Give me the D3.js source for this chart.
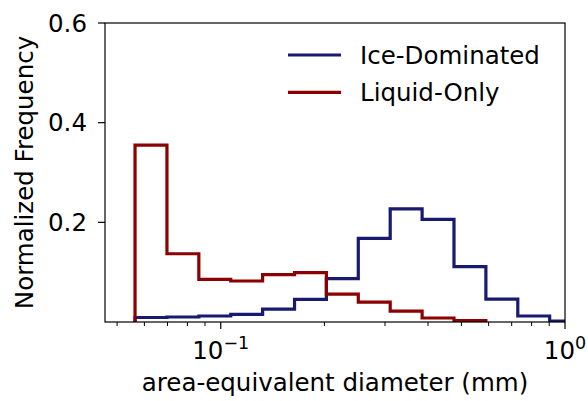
<!DOCTYPE html>
<html><head><meta charset="utf-8">
<script src="https://cdn.jsdelivr.net/npm/d3@7/dist/d3.min.js"></script>
<style>body{margin:0;background:#fff}svg{display:block}text{font-family:"DejaVu Sans",sans-serif;fill:#000}</style>
</head><body>
<script>
// bin edges (mm), log-spaced
const binEdges = [0.05636, 0.06977, 0.08636, 0.1069, 0.1323, 0.1638, 0.2027, 0.2509, 0.3106, 0.3845, 0.4759, 0.5891, 0.7292, 0.9025, 1.117];
const iceDominated = [0.009, 0.010, 0.012, 0.0155, 0.026, 0.0455, 0.087, 0.168, 0.227, 0.206, 0.111, 0.046, 0.012, 0.002];
const liquidOnly = [0.355, 0.137, 0.0857, 0.0823, 0.095, 0.099, 0.056, 0.040, 0.022, 0.008, 0.003];
const yTicks = [0.2, 0.4, 0.6];
const xMajorTicks = [0.1, 1];
const xMinorTicks = [0.05, 0.06, 0.07, 0.08, 0.09, 0.2, 0.3, 0.4, 0.5, 0.6, 0.7, 0.8, 0.9];
const seriesNames = ["Ice-Dominated", "Liquid-Only"];
const seriesColors = ["#191970", "#8b0000"];

const W = 588, H = 401;
const L = 105, R = 565, T = 23, B = 322;
const FS = 24.5;
const svg = d3.select("body").append("svg").attr("width", W).attr("height", H);

const x = d3.scaleLog().domain([0.0461, 1.0]).range([L, R]);
const y = d3.scaleLinear().domain([0, 0.6]).range([B, T]);

svg.append("defs").append("clipPath").attr("id", "clip")
  .append("rect").attr("x", L).attr("y", T).attr("width", R - L).attr("height", B - T);

function stepPoints(vals) {
  const pts = [[binEdges[0], 0]];
  vals.forEach((v, i) => { pts.push([binEdges[i], v]); pts.push([binEdges[i + 1], v]); });
  pts.push([binEdges[vals.length], 0]);
  return pts;
}
const line = d3.line().x(d => x(d[0])).y(d => y(d[1]));

const plot = svg.append("g").attr("clip-path", "url(#clip)");
[iceDominated, liquidOnly].forEach((vals, i) => {
  plot.append("path").attr("d", line(stepPoints(vals)))
    .attr("fill", "none").attr("stroke", seriesColors[i]).attr("stroke-width", 3.2)
    .attr("stroke-linejoin", "miter");
});

// spines
svg.append("rect").attr("x", L).attr("y", T).attr("width", R - L).attr("height", B - T)
  .attr("fill", "none").attr("stroke", "#000").attr("stroke-width", 1.2);

// y axis ticks
yTicks.forEach(t => {
  svg.append("line").attr("x1", L - 7).attr("x2", L).attr("y1", y(t)).attr("y2", y(t))
    .attr("stroke", "#000").attr("stroke-width", 1.2);
  svg.append("text").attr("x", L - 18).attr("y", y(t)).attr("dy", "0.36em")
    .attr("text-anchor", "end").attr("font-size", FS).text(t.toFixed(1));
});

// x axis ticks
xMinorTicks.forEach(t => {
  svg.append("line").attr("x1", x(t)).attr("x2", x(t)).attr("y1", B).attr("y2", B + 4)
    .attr("stroke", "#000").attr("stroke-width", 1);
});
xMajorTicks.forEach(t => {
  svg.append("line").attr("x1", x(t)).attr("x2", x(t)).attr("y1", B).attr("y2", B + 7)
    .attr("stroke", "#000").attr("stroke-width", 1.2);
  const e = Math.round(Math.log10(t));
  const tx = svg.append("text").attr("x", x(t)).attr("y", 358.5).attr("text-anchor", "middle")
    .attr("font-size", FS);
  tx.append("tspan").text("10");
  tx.append("tspan").attr("dy", -9.5).attr("font-size", 17.5).text(e < 0 ? "\u2212" + (-e) : String(e));
});

// axis labels
svg.append("text").attr("x", (L + R) / 2).attr("y", 391).attr("text-anchor", "middle")
  .attr("font-size", FS).text("area-equivalent diameter (mm)");
svg.append("text").attr("transform", `translate(33,${(T + B) / 2}) rotate(-90)`)
  .attr("text-anchor", "middle").attr("font-size", FS).text("Normalized Frequency");

// legend
seriesNames.forEach((n, i) => {
  const ly = 55 + i * 37.3;
  svg.append("line").attr("x1", 288).attr("x2", 341).attr("y1", ly).attr("y2", ly)
    .attr("stroke", seriesColors[i]).attr("stroke-width", 3.2);
  svg.append("text").attr("x", 360).attr("y", ly).attr("dy", "0.36em")
    .attr("font-size", FS).text(n);
});
</script>
</body></html>
